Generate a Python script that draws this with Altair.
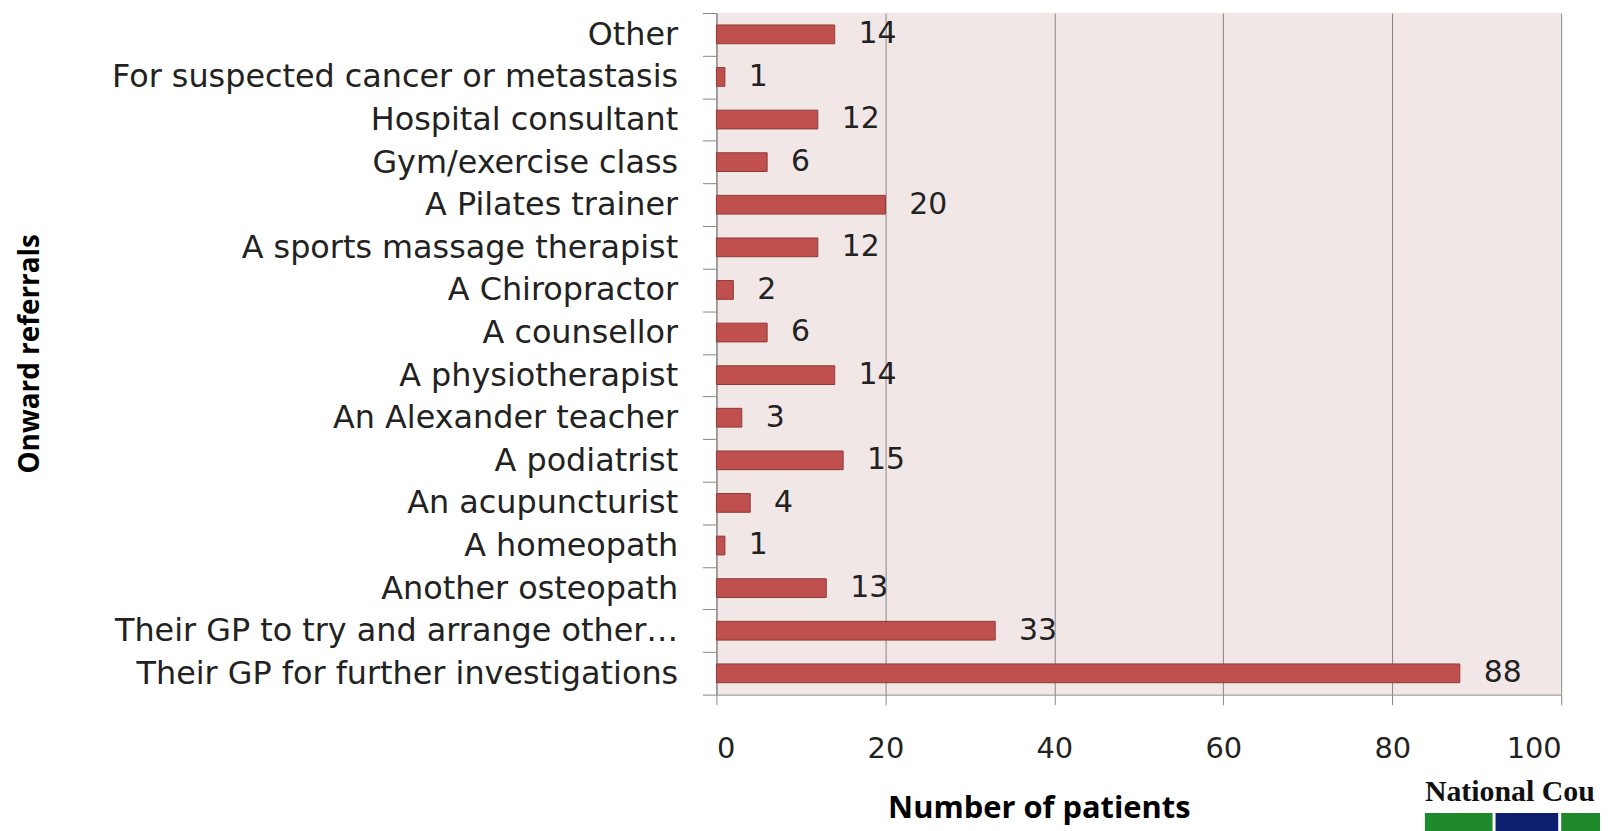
import altair as alt
import pandas as pd

categories = [
    "Other",
    "For suspected cancer or metastasis",
    "Hospital consultant",
    "Gym/exercise class",
    "A Pilates trainer",
    "A sports massage therapist",
    "A Chiropractor",
    "A counsellor",
    "A physiotherapist",
    "An Alexander teacher",
    "A podiatrist",
    "An acupuncturist",
    "A homeopath",
    "Another osteopath",
    "Their GP to try and arrange other…",
    "Their GP for further investigations",
]
values = [14, 1, 12, 6, 20, 12, 2, 6, 14, 3, 15, 4, 1, 13, 33, 88]
x_ticks = [0, 20, 40, 60, 80, 100]

df = pd.DataFrame({"referral": categories, "patients": values})

FONT = "DejaVu Sans"
TFONT = "Open Sans"
GRAY = "#868686"

y_enc = alt.Y(
    "referral:N",
    sort=categories,
    scale=alt.Scale(paddingInner=0, paddingOuter=0),
    axis=alt.Axis(
        title="Onward referrals",
        titleFont=TFONT,
        titleFontSize=28,
        titleFontWeight="bold",
        titleColor="#000000",
        titleAngle=-90,
        titleAlign="center",
        titleBaseline="middle",
        titleX=-689,
        titleY=342,
        labelFont=FONT,
        labelFontSize=32,
        labelColor="#222222",
        labelLimit=700,
        labelPadding=25,
        tickBand="extent",
        tickSize=14,
        tickColor=GRAY,
        domainColor=GRAY,
        grid=False,
    ),
)

x_enc = alt.X(
    "patients:Q",
    scale=alt.Scale(domain=[0, 100], nice=False),
    axis=alt.Axis(
        values=x_ticks,
        title="Number of patients",
        titleFont=TFONT,
        titleFontSize=31,
        titleFontWeight="bold",
        titleColor="#000000",
        titleAlign="center",
        titleBaseline="alphabetic",
        titleX=324,
        titleY=124,
        labelFont=FONT,
        labelFontSize=29,
        labelColor="#222222",
        labelPadding=30,
        tickSize=10,
        tickColor=GRAY,
        domainColor=GRAY,
        grid=True,
        gridColor=GRAY,
        gridWidth=1,
    ),
)

bars = alt.Chart(df).mark_bar(
    color="#C0504D", stroke="#8C3A38", strokeWidth=1,
    height=alt.RelativeBandSize(0.44),
).encode(x=x_enc, y=y_enc)

labels = alt.Chart(df).mark_text(
    align="left", baseline="middle", dx=24, font=FONT, fontSize=30, color="#222222"
).encode(
    x=alt.X("patients:Q"),
    y=alt.Y("referral:N", sort=categories),
    text=alt.Text("patients:Q"),
)

logo_df = pd.DataFrame({"t": ["National Cou"]})
logo_text = alt.Chart(logo_df).mark_text(
    align="left", baseline="alphabetic", font="Liberation Serif",
    fontWeight="bold", fontSize=30, color="#111111"
).encode(x=alt.value(712), y=alt.value(792), text="t:N")

logo_g = alt.Chart(logo_df).mark_rect(color="#1F8A2B").encode(
    x=alt.value(712), x2=alt.value(780), y=alt.value(804), y2=alt.value(830))
logo_n = alt.Chart(logo_df).mark_rect(color="#0B1F6E").encode(
    x=alt.value(783), x2=alt.value(846), y=alt.value(804), y2=alt.value(830))
logo_g2 = alt.Chart(logo_df).mark_rect(color="#1F8A2B").encode(
    x=alt.value(849), x2=alt.value(900), y=alt.value(804), y2=alt.value(830))

chart = alt.layer(bars, labels, logo_text, logo_g, logo_n, logo_g2).properties(
    width=849,
    height=685,
    autosize=alt.AutoSizeParams(type="none"),
    padding={"left": 712, "top": 3, "right": 39, "bottom": 135},
    background="#FFFFFF",
).configure_view(
    fill="#F2E7E7", stroke=None
)

chart.save("out.html", embed_options={"renderer": "svg", "actions": False})
